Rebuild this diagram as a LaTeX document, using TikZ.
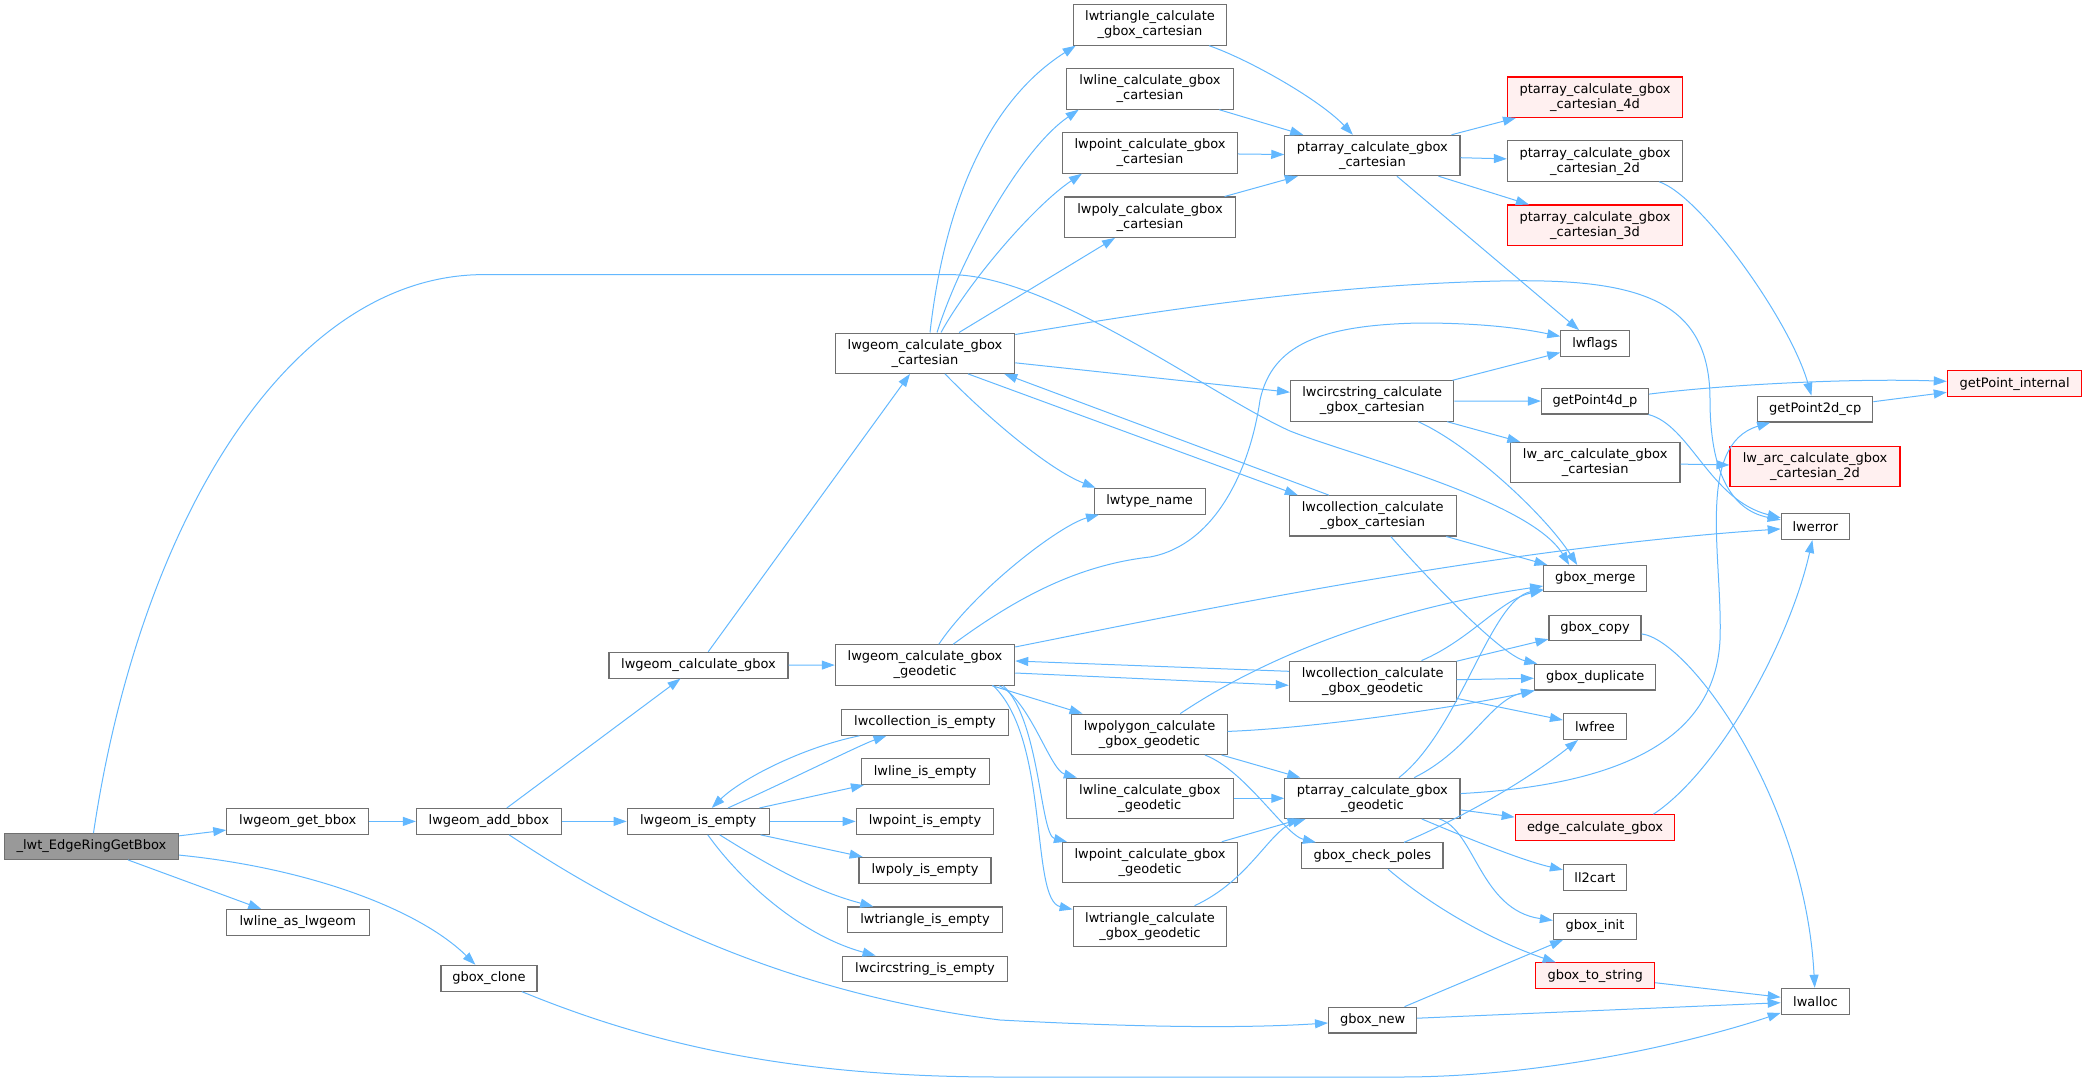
\documentclass[tikz,border=0pt]{standalone}
\usepackage{fontspec}
\setmainfont{DejaVu Sans}
\usetikzlibrary{arrows.meta,calc}
\definecolor{edgeblue}{HTML}{63B8FF}
\definecolor{nodegray}{HTML}{707070}
\definecolor{rootfill}{HTML}{999999}
\definecolor{redfill}{HTML}{FFF0F0}
\tikzset{
 box/.style={draw=nodegray, line width=1.1pt, fill=white, font=\fontsize{13}{15}\selectfont, inner xsep=1pt, inner ysep=0pt, align=center, minimum height=25.8pt},
 box2/.style={box, minimum height=40.3pt},
 redbox/.style={box, draw=red, fill=redfill},
 redbox2/.style={box2, draw=red, fill=redfill},
 rootbox/.style={box, fill=rootfill},
 link/.style={draw=edgeblue, line width=1pt, -{Triangle[length=13pt,width=9pt]}},
}
\begin{document}
\begin{tikzpicture}[x=1pt,y=-1pt]
\useasboundingbox (0,0) rectangle (2087,1083);
% nodes
\node[rootbox, minimum width=174pt] (root) at (91.5,846.5) {\_lwt\_EdgeRingGetBbox};
\node[box, minimum width=142pt] (getbbox) at (297.8,821.4) {lwgeom\_get\_bbox};
\node[box, minimum width=144.7pt] (addbbox) at (488.8,821.4) {lwgeom\_add\_bbox};
\node[box, minimum width=143pt] (asgeom) at (297.8,922.4) {lwline\_as\_lwgeom};
\node[box, minimum width=96pt] (clone) at (489,978.2) {gbox\_clone};
\node[box, minimum width=179pt] (calcgbox) at (698.5,665.2) {lwgeom\_calculate\_gbox};
\node[box, minimum width=142pt] (isempty) at (698.2,821.4) {lwgeom\_is\_empty};
\node[box2, minimum width=179.4pt] (cart) at (925,353.2) {lwgeom\_calculate\_gbox\\\_cartesian};
\node[box2, minimum width=179.4pt] (geo) at (925,665) {lwgeom\_calculate\_gbox\\\_geodetic};
\node[box, minimum width=167pt] (colempty) at (925,722.3) {lwcollection\_is\_empty};
\node[box, minimum width=128pt] (lineempty) at (925.2,771.6) {lwline\_is\_empty};
\node[box, minimum width=137.5pt] (pointempty) at (925,821.4) {lwpoint\_is\_empty};
\node[box, minimum width=132pt] (polyempty) at (925,870.3) {lwpoly\_is\_empty};
\node[box, minimum width=155.4pt] (triempty) at (925,919.9) {lwtriangle\_is\_empty};
\node[box, minimum width=164.2pt] (circempty) at (925,969) {lwcircstring\_is\_empty};
\node[box2, minimum width=153.6pt] (tricart) at (1150,25) {lwtriangle\_calculate\\\_gbox\_cartesian};
\node[box2, minimum width=167.5pt] (linecart) at (1150,89) {lwline\_calculate\_gbox\\\_cartesian};
\node[box2, minimum width=175pt] (pointcart) at (1150,153) {lwpoint\_calculate\_gbox\\\_cartesian};
\node[box2, minimum width=171pt] (polycart) at (1150,217.2) {lwpoly\_calculate\_gbox\\\_cartesian};
\node[box, minimum width=111pt] (typename) at (1149.6,501.2) {lwtype\_name};
\node[box2, minimum width=155.3pt] (polygeo) at (1149.5,734.3) {lwpolygon\_calculate\\\_gbox\_geodetic};
\node[box2, minimum width=167.5pt] (linegeo) at (1149.8,798.3) {lwline\_calculate\_gbox\\\_geodetic};
\node[box2, minimum width=175pt] (pointgeo) at (1150,862.4) {lwpoint\_calculate\_gbox\\\_geodetic};
\node[box2, minimum width=153.6pt] (trigeo) at (1150,926.4) {lwtriangle\_calculate\\\_gbox\_geodetic};
\node[box2, minimum width=175.2pt] (ptcart) at (1372.4,155.5) {ptarray\_calculate\_gbox\\\_cartesian};
\node[box2, minimum width=163.3pt] (circcart) at (1372.2,401) {lwcircstring\_calculate\\\_gbox\_cartesian};
\node[box2, minimum width=166.7pt] (colcart) at (1372.7,515.8) {lwcollection\_calculate\\\_gbox\_cartesian};
\node[box2, minimum width=166.8pt] (colgeo) at (1372.7,681.3) {lwcollection\_calculate\\\_gbox\_geodetic};
\node[box2, minimum width=175.2pt] (ptgeo) at (1372.4,798.3) {ptarray\_calculate\_gbox\\\_geodetic};
\node[box, minimum width=141.1pt] (poles) at (1372.4,855.8) {gbox\_check\_poles};
\node[box, minimum width=88.1pt] (gnew) at (1372.6,1020.1) {gbox\_new};
\node[redbox2, minimum width=175.2pt] (pt4d) at (1595,97.2) {ptarray\_calculate\_gbox\\\_cartesian\_4d};
\node[box2, minimum width=175.2pt] (pt2d) at (1595,161.1) {ptarray\_calculate\_gbox\\\_cartesian\_2d};
\node[redbox2, minimum width=175.2pt] (pt3d) at (1595,225.2) {ptarray\_calculate\_gbox\\\_cartesian\_3d};
\node[box, minimum width=68.4pt] (lwflags) at (1595,343.6) {lwflags};
\node[box, minimum width=107pt] (gp4d) at (1595,401.1) {getPoint4d\_p};
\node[box2, minimum width=169.6pt] (arccart) at (1595.2,462.6) {lw\_arc\_calculate\_gbox\\\_cartesian};
\node[box, minimum width=103pt] (merge) at (1595.2,578.4) {gbox\_merge};
\node[box, minimum width=92pt] (copy) at (1595,628) {gbox\_copy};
\node[box, minimum width=121.4pt] (dup) at (1595.2,677.1) {gbox\_duplicate};
\node[box, minimum width=63.1pt] (lwfree) at (1595,726.6) {lwfree};
\node[redbox, minimum width=159.6pt] (edgecalc) at (1595,827.7) {edge\_calculate\_gbox};
\node[box, minimum width=63.1pt] (ll2cart) at (1595,877.2) {ll2cart};
\node[box, minimum width=83.2pt] (ginit) at (1595,926.4) {gbox\_init};
\node[redbox, minimum width=118.8pt] (tostring) at (1595.2,975.8) {gbox\_to\_string};
\node[box, minimum width=115.2pt] (gp2d) at (1815.2,409.1) {getPoint2d\_cp};
\node[redbox2, minimum width=170pt] (arc2d) at (1815,466.5) {lw\_arc\_calculate\_gbox\\\_cartesian\_2d};
\node[box, minimum width=68.4pt] (lwerror) at (1815.4,526.6) {lwerror};
\node[box, minimum width=68.4pt] (lwalloc) at (1815.4,1001.2) {lwalloc};
\node[redbox, minimum width=134.6pt] (gpint) at (2014.6,383.7) {getPoint\_internal};
% edges from root
\draw[link] (root) -- (getbbox);
\draw[link] (root) -- (asgeom);
\draw[link] (root) .. controls (310,868) and (420,910) .. (clone);
\draw[link] (root) .. controls (140,520) and (290,274.6) .. (484,274.6) -- (950,274.6) .. controls (1050,274.6) and (1210,395) .. (1290,431) .. controls (1350,455) and (1530,500) .. ($(merge.north)+(-26,0)$);
\draw[link] (getbbox) -- (addbbox);
\draw[link] (addbbox) -- (calcgbox);
\draw[link] (addbbox) -- (isempty);
\draw[link] (addbbox) .. controls (600,895) and (760,990) .. (1000,1020) .. controls (1150,1028) and (1250,1028) .. (gnew);
\draw[link] (clone) .. controls (640,1040) and (780,1077) .. (1000,1077) -- (1400,1077) .. controls (1550,1077) and (1700,1040) .. (lwalloc);
\draw[link] (calcgbox) -- (cart);
\draw[link] (calcgbox) -- (geo);
% is_empty
\draw[link] (isempty) .. controls (790,780) and (860,745) .. (colempty);
\draw[link] (colempty) .. controls (800,748) and (740,780) .. (isempty);
\draw[link] (isempty) -- (lineempty);
\draw[link] (isempty) -- (pointempty);
\draw[link] (isempty) -- (polyempty);
\draw[link] (isempty) .. controls (760,860) and (810,890) .. (triempty);
\draw[link] (isempty) .. controls (740,880) and (800,935) .. (circempty);
% cartesian
\draw[link] ($(cart.north)+(5,0)$) .. controls (945,200) and (990,100) .. ($(tricart.south west)+(3,0)$);
\draw[link] ($(cart.north)+(12,0)$) .. controls (960,260) and (1020,150) .. ($(linecart.south west)+(13,0)$);
\draw[link] ($(cart.north)+(16,0)$) .. controls (970,280) and (1035,205) .. ($(pointcart.south west)+(20,0)$);
\draw[link] ($(cart.north)+(34,0)$) -- ($(polycart.south)+(-35,0)$);
\draw[link] ($(cart.south)+(20,0)$) .. controls (990,420) and (1050,470) .. ($(typename.north west)+(2,0)$);
\draw[link] (cart) -- (circcart);
\draw[link] ($(cart.south)+(43,0)$) -- ($(colcart.north west)+(9,0)$);
\draw[link] ($(colcart.north west)+(40,0)$) -- ($(cart.south east)+(-11,0)$);
\draw[link] ($(cart.north east)+(0,2)$) .. controls (1150,312) and (1320,285) .. (1500,281) .. controls (1640,278) and (1710,300) .. (1710,400) .. controls (1710,470) and (1730,510) .. (lwerror);
\draw[link] (tricart) .. controls (1250,60) and (1320,100) .. (ptcart);
\draw[link] (linecart) -- (ptcart);
\draw[link] (pointcart) -- (ptcart);
\draw[link] (polycart) -- (ptcart);
\draw[link] (ptcart) -- (pt4d);
\draw[link] (ptcart) -- (pt2d);
\draw[link] (ptcart) -- (pt3d);
\draw[link] (ptcart) -- (lwflags);
\draw[link] (pt2d) .. controls (1700,195) and (1790,320) .. (gp2d);
\draw[link] (gp2d) -- (gpint);
\draw[link] (gp4d) .. controls (1720,385) and (1850,378) .. (gpint);
\draw[link] (gp4d) .. controls (1690,425) and (1710,500) .. (lwerror);
\draw[link] (circcart) -- (lwflags);
\draw[link] (circcart) -- (gp4d);
\draw[link] (circcart) -- (arccart);
\draw[link] (circcart) .. controls (1470,445) and (1545,515) .. ($(merge.north)+(-18,0)$);
\draw[link] (arccart) -- (arc2d);
\draw[link] (colcart) -- (merge);
\draw[link] (colcart) .. controls (1420,570) and (1500,655) .. (dup);
% geodetic
\draw[link] (geo) .. controls (975,590) and (1060,525) .. (typename);
\draw[link] (geo) .. controls (1020,595) and (1080,565) .. (1150,557) .. controls (1215,545) and (1250,470) .. (1260,400) .. controls (1272,345) and (1320,325) .. (1420,323) .. controls (1480,323) and (1520,328) .. (lwflags);
\draw[link] (geo) .. controls (1200,610) and (1500,548) .. (lwerror);
\draw[link] ([yshift=-8pt]geo.east) -- ([yshift=-4pt]colgeo.west);
\draw[link] ([yshift=10pt]colgeo.west) -- ([yshift=4pt]geo.east);
\draw[link] (geo) -- (polygeo);
\draw[link] ($(geo.south east)+(-16,0)$) .. controls (1030,700) and (1050,770) .. (linegeo);
\draw[link] ($(geo.south east)+(-12,0)$) .. controls (1040,720) and (1040,835) .. (pointgeo);
\draw[link] ($(geo.south east)+(-22,0)$) .. controls (1050,740) and (1030,900) .. (trigeo);
\draw[link] (colgeo) .. controls (1470,640) and (1500,600) .. (merge);
\draw[link] (colgeo) -- (copy);
\draw[link] (colgeo) -- (dup);
\draw[link] (colgeo) -- (lwfree);
\draw[link] (polygeo) .. controls (1260,660) and (1380,610) .. (merge);
\draw[link] (polygeo) .. controls (1320,728) and (1470,705) .. (dup);
\draw[link] (polygeo) -- (ptgeo);
\draw[link] (polygeo) .. controls (1245,770) and (1285,835) .. (poles);
\draw[link] (linegeo) -- (ptgeo);
\draw[link] (pointgeo) -- (ptgeo);
\draw[link] (trigeo) .. controls (1250,880) and (1270,830) .. (ptgeo);
\draw[link] (ptgeo) .. controls (1460,730) and (1490,600) .. (merge);
\draw[link] (ptgeo) .. controls (1470,750) and (1490,700) .. (dup);
\draw[link] (ptgeo) .. controls (1620,785) and (1715,740) .. (1720,640) .. controls (1723,560) and (1695,445) .. (gp2d);
\draw[link] (ptgeo) -- (edgecalc);
\draw[link] (ptgeo) .. controls (1460,835) and (1520,860) .. (ll2cart);
\draw[link] (ptgeo) .. controls (1475,830) and (1480,910) .. (ginit);
\draw[link] ($(edgecalc.north east)+(-22,0)$) .. controls (1720,770) and (1790,640) .. (lwerror);
\draw[link] (poles) .. controls (1480,810) and (1540,770) .. (lwfree);
\draw[link] (poles) .. controls (1430,905) and (1490,940) .. (tostring);
\draw[link] (gnew) -- (ginit);
\draw[link] (gnew) -- (lwalloc);
\draw[link] (tostring) -- (lwalloc);
\draw[link] (copy) .. controls (1690,640) and (1805,800) .. (lwalloc);
\end{tikzpicture}
\end{document}
